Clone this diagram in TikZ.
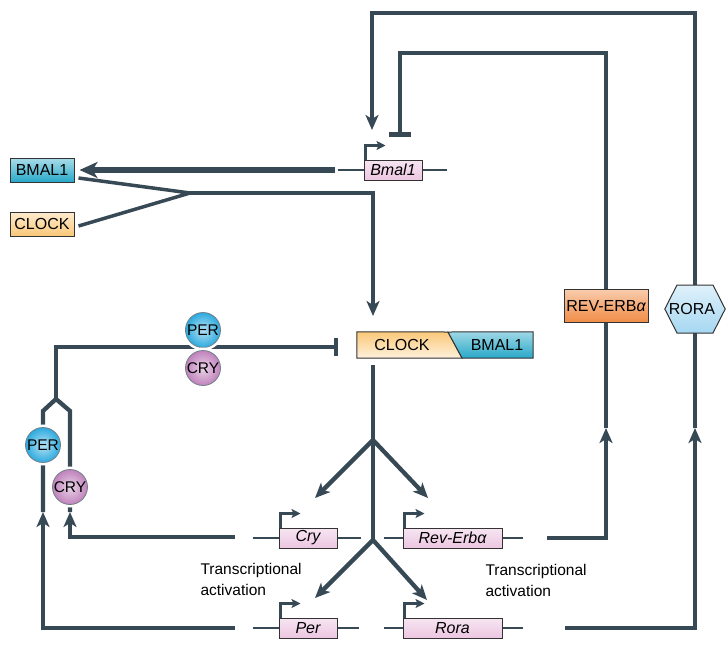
\documentclass[tikz,border=0pt]{standalone}
\usepackage{fontspec}
\setmainfont{Liberation Sans}
\usetikzlibrary{arrows.meta}

\definecolor{linec}{RGB}{55,73,85}
\definecolor{bmalc}{RGB}{40,168,200}
\definecolor{clockc}{RGB}{250,200,120}
\definecolor{genec}{RGB}{236,198,225}
\definecolor{perc}{RGB}{45,170,222}
\definecolor{cryc}{RGB}{192,130,188}
\definecolor{revc}{RGB}{240,140,70}
\definecolor{rorac}{RGB}{165,215,242}

\pgfdeclarelayer{bg}
\pgfsetlayers{bg,main}

\begin{document}
\begin{tikzpicture}[x=1pt,y=-1pt,
  font=\fontsize{16}{18}\selectfont,
  fb/.style={draw=linec, line width=4.3pt},
  tip/.style={-{Stealth[length=15pt,width=13pt,inset=4pt]}},
  blunt/.style={-{Bar[width=#1]}},
  gline/.style={draw=linec, line width=1.3pt},
  prom/.style={draw=linec, line width=2.3pt, -{Stealth[length=9pt,width=9pt,inset=2pt]}},
  gene/.style={draw=black!80, line width=1pt, top color=genec!45!white, bottom color=genec,
    minimum height=20pt, inner sep=0pt, font=\fontsize{16}{18}\selectfont\itshape},
  prot/.style={draw=black!80, line width=1pt, minimum height=24pt, inner sep=1pt},
  mol/.style={circle, draw=linec!70, line width=0.8pt, minimum size=35pt, inner sep=0pt,
    font=\fontsize{15.5}{16}\selectfont, preaction={draw=white, line width=6pt}},
]
\useasboundingbox (0,0) rectangle (726,649);

% proteins on the left
\node[prot, minimum width=64pt, top color=bmalc!40!white, bottom color=bmalc] (bmalprot) at (42,170) {BMAL1};
\node[prot, minimum width=64pt, top color=clockc!35!white, bottom color=clockc] (clockprot) at (42,224) {CLOCK};

% genes
\node[gene, minimum width=58pt] (bmalgene) at (393,170) {Bmal1};
\node[gene, minimum width=58pt] (crygene) at (308,538) {Cry};
\node[gene, minimum width=99pt] (revgene) at (452.5,538) {Rev-Erbα};
\node[gene, minimum width=58pt] (pergene) at (308,628) {Per};
\node[gene, minimum width=99pt] (roragene) at (452.5,628) {Rora};

% CLOCK-BMAL1 complex
\node[minimum width=176pt, minimum height=26pt, inner sep=0pt] (complex) at (445,345) {};
\path[draw=black!80, line width=1pt, top color=clockc, bottom color=clockc!25!white]
  (complex.north west) -- (448,332) -- (462,358) -- (complex.south west) -- cycle;
\path[draw=black!80, line width=1pt, top color=bmalc!45!white, bottom color=bmalc]
  (448,332) -- (complex.north east) -- (complex.south east) -- (462,358) -- cycle;
\node (clocktxt) at (402,345) {CLOCK};
\node (bmaltxt) at (497,345) {BMAL1};

% PER and CRY
\node[mol, inner color=perc!35!white, outer color=perc] (per1) at (203,330) {PER};
\node[mol, inner color=cryc!35!white, outer color=cryc] (cry1) at (203,368) {CRY};
\node[mol, inner color=perc!35!white, outer color=perc] (per2) at (43,445) {PER};
\node[mol, inner color=cryc!35!white, outer color=cryc] (cry2) at (70,487) {CRY};

% nuclear receptors
\node[prot, minimum width=84pt, minimum height=33pt, top color=revc!45!white, bottom color=revc] (revprot) at (606,306) {REV-ERB{\itshape α}};
\node[minimum width=60pt, minimum height=48pt, inner sep=0pt] (rora) at (695,309) {};
\path[draw=black!80, line width=1pt, top color=rorac!35!white, bottom color=rorac]
  (rora.west) -- (677,285) -- (713,285) -- (rora.east) -- (713,333) -- (677,333) -- cycle;
\node (roratxt) at (692,309) {RORA};

\node[align=left, anchor=west, font=\fontsize{15.5}{21}\selectfont] (actl) at (197,579) {Transcriptional\\activation};
\node[align=left, anchor=west, font=\fontsize{15.5}{21}\selectfont] (actr) at (482,580) {Transcriptional\\activation};

\coordinate (bmalin) at (372,130);
\coordinate (bmalstop) at (400,137);
\coordinate (outer) at (372,13);
\coordinate (inner) at (400,53);
\coordinate (bmalout) at (335,170);
\coordinate (merge) at (190,193);
\coordinate (clockin) at (373,316);
\coordinate (corner) at (56,347);
\coordinate (inhib) at (338,347);
\coordinate (fork) at (56,399);
\coordinate (forkl) at (43,411);
\coordinate (forkr) at (70,411);
\coordinate (perup) at (43,512);
\coordinate (cryup) at (70,512);
\coordinate (cryout) at (235,537);
\coordinate (perout) at (235,628);
\coordinate (revout) at (547,538);
\coordinate (roraout) at (565,628);
\coordinate (revup) at (606,428);
\coordinate (roraup) at (695,428);
\coordinate (trunktop) at (373,365);
\coordinate (split1) at (373,440);
\coordinate (split2) at (373,540);
\coordinate (cryin) at (315,498);
\coordinate (revin) at (428,498);
\coordinate (perin) at (315,598);
\coordinate (rorain) at (427,600);

\begin{pgfonlayer}{bg}
% gene lines and promoters
\draw[gline] ([xshift=-26pt]bmalgene.west) -- (bmalgene.west);
\draw[gline] (bmalgene.east) -- ++(24,0);
\draw[gline] ([xshift=-26pt]crygene.west) -- (crygene.west);
\draw[gline] (crygene.east) -- ++(23,0);
\draw[gline] ([xshift=-19pt]revgene.west) -- (revgene.west);
\draw[gline] (revgene.east) -- ++(20,0);
\draw[gline] ([xshift=-26pt]pergene.west) -- (pergene.west);
\draw[gline] (pergene.east) -- ++(21,0);
\draw[gline] ([xshift=-19pt]roragene.west) -- (roragene.west);
\draw[gline] (roragene.east) -- ++(20,0);
\draw[prom] ([xshift=2pt]bmalgene.north west) -- ++(0,-14) -- ++(20,0);
\draw[prom] ([xshift=2pt]crygene.north west) -- ++(0,-14) -- ++(20,0);
\draw[prom] ([xshift=2pt]revgene.north west) -- ++(0,-14) -- ++(20,0);
\draw[prom] ([xshift=2pt]pergene.north west) -- ++(0,-14) -- ++(20,0);
\draw[prom] ([xshift=2pt]roragene.north west) -- ++(0,-14) -- ++(20,0);

% feedback loops
\draw[fb, tip] (roraout) -| (roraup);
\draw[fb] (roraup) -- (rora.south);
\draw[fb, line width=4.6pt, tip] (rora.north) |- (outer) -- (bmalin);
\draw[fb, tip] (revout) -| (revup);
\draw[fb] (revup) -- (revprot.south);
\draw[fb, line width=4.6pt, blunt=22pt] (revprot.north) |- (inner) -- (bmalstop);

% BMAL1 and CLOCK
\draw[fb, line width=5.5pt, -{Stealth[length=18pt,width=16pt,inset=5pt]}] (bmalout) -- ([xshift=5pt]bmalprot.east);
\draw[fb, line width=3.5pt] ([shift={(4pt,-8pt)}]bmalprot.east) -- (merge) -- ([shift={(4pt,-2pt)}]clockprot.east);
\draw[fb, tip] (merge) -| (clockin);

% PER/CRY repression
\draw[fb, blunt=18pt] (fork) -- (corner) -- (inhib);
\draw[fb, tip] (perout) -| (perup);
\draw[fb, tip] (cryout) -| (cryup);
\draw[fb] (perup) -- (forkl) -- (fork) -- (forkr) -- (cryup);

% activation of target genes
\draw[fb] (trunktop) -- (split2);
\draw[fb, tip] (split1) -- (cryin);
\draw[fb, tip] (split1) -- (revin);
\draw[fb, tip] (split2) -- (perin);
\draw[fb, tip] (split2) -- (rorain);
\end{pgfonlayer}
\end{tikzpicture}
\end{document}
